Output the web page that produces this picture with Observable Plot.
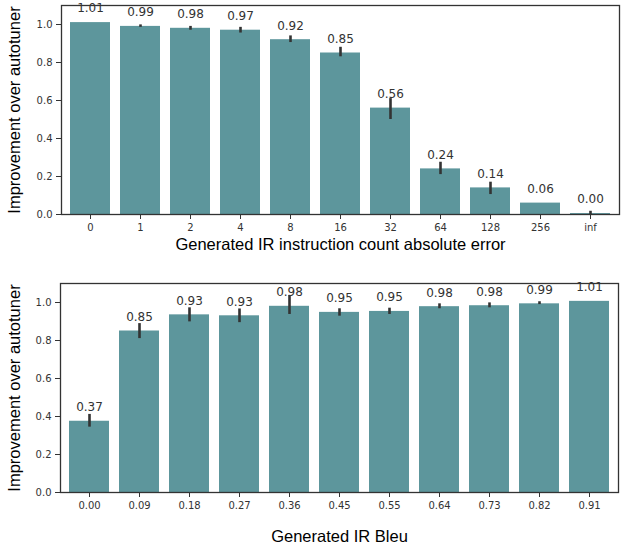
<!DOCTYPE html>
<html>
<head>
<meta charset="utf-8">
<script src="https://cdn.jsdelivr.net/npm/d3@7"></script>
<script src="https://cdn.jsdelivr.net/npm/@observablehq/plot@0.6"></script>
<style>
  html, body { margin: 0; padding: 0; background: #fff; }
  #wrap { position: relative; width: 621px; height: 546px; }
  #top { position: absolute; left: 0; top: 0; }
  #bot { position: absolute; left: 0; top: 262px; }
</style>
</head>
<body>
<div id="wrap"><div id="top"></div><div id="bot"></div></div>
<script>
// Top panel: IR instruction count absolute error
const errCategories = ["0", "1", "2", "4", "8", "16", "32", "64", "128", "256", "inf"];
const errValues =     [1.01, 0.99, 0.98, 0.97, 0.92, 0.85, 0.56, 0.24, 0.14, 0.06, 0.005];
const errLabels =     ["1.01", "0.99", "0.98", "0.97", "0.92", "0.85", "0.56", "0.24", "0.14", "0.06", "0.00"];
const errLow =        [null, 0.985, 0.97, 0.955, 0.905, 0.83, 0.50, 0.21, 0.105, null, 0.0];
const errHigh =       [null, 0.998, 0.99, 0.985, 0.94, 0.88, 0.61, 0.275, 0.17, null, 0.017];

// Bottom panel: IR Bleu
const bleuCategories = ["0.00", "0.09", "0.18", "0.27", "0.36", "0.45", "0.55", "0.64", "0.73", "0.82", "0.91"];
const bleuValues =     [0.375, 0.85, 0.935, 0.93, 0.98, 0.948, 0.953, 0.978, 0.983, 0.993, 1.006];
const bleuLabels =     ["0.37", "0.85", "0.93", "0.93", "0.98", "0.95", "0.95", "0.98", "0.98", "0.99", "1.01"];
const bleuLow =        [0.344, 0.81, 0.898, 0.894, 0.937, 0.928, 0.937, 0.967, 0.972, 0.989, null];
const bleuHigh =       [0.411, 0.889, 0.972, 0.966, 1.037, 0.967, 0.97, 0.993, 0.998, 1.004, null];

const yTicks = [0, 0.2, 0.4, 0.6, 0.8, 1.0];
const yTitle = "Improvement over autotuner";

const BAR = "#5d969c";
const INK = "#333333";

function rows(cats, vals, labs, lo, hi) {
  return cats.map((c, i) => ({cat: c, v: vals[i], lab: labs[i], lo: lo[i], hi: hi[i]}));
}

function panel({data, cats, xTitle, height, mt, mb, ml, mr, xTitleDy, yTitleDx}) {
  const withErr = data.filter(d => d.lo != null && d.hi != null);
  return Plot.plot({
    width: 621,
    height,
    marginTop: mt,
    marginBottom: mb,
    marginLeft: ml,
    marginRight: mr,
    style: {fontFamily: "DejaVu Sans, sans-serif", color: INK, background: "#fff", overflow: "visible"},
    x: {domain: cats, paddingInner: 0.2, paddingOuter: 0.1, label: null},
    y: {domain: [0, 1.1], label: null},
    marks: [
      Plot.barY(data, {x: "cat", y: "v", fill: BAR}),
      Plot.ruleX(withErr, {x: "cat", y1: "lo", y2: "hi", stroke: INK, strokeWidth: 2.6}),
      Plot.text(data, {x: "cat", y: "v", text: "lab", dy: -14, fontSize: 12, fill: INK}),
      Plot.frame({stroke: INK, strokeWidth: 1.3}),
      Plot.axisX({tickSize: 5, tickPadding: 4, fontSize: 10, label: null}),
      Plot.axisY({ticks: yTicks, tickFormat: d3.format(".1f"), tickSize: 5, tickPadding: 4, fontSize: 10, label: null}),
      Plot.text([xTitle], {frameAnchor: "bottom", dy: xTitleDy, fontSize: 16.5, fontFamily: "Liberation Sans, Arial, sans-serif", fill: "#000", lineAnchor: "middle", textAnchor: "middle"}),
      Plot.text([yTitle], {frameAnchor: "left", dx: yTitleDx, rotate: -90, fontSize: 16.5, fontFamily: "Liberation Sans, Arial, sans-serif", fill: "#000", lineAnchor: "middle", textAnchor: "middle"})
    ]
  });
}

document.getElementById("top").append(panel({
  data: rows(errCategories, errValues, errLabels, errLow, errHigh),
  cats: errCategories,
  xTitle: "Generated IR instruction count absolute error",
  height: 262, mt: 5, mb: 48, ml: 61, mr: 2,
  xTitleDy: 30, yTitleDx: -47
}));

document.getElementById("bot").append(panel({
  data: rows(bleuCategories, bleuValues, bleuLabels, bleuLow, bleuHigh),
  cats: bleuCategories,
  xTitle: "Generated IR Bleu",
  height: 284, mt: 21, mb: 54, ml: 60, mr: 3,
  xTitleDy: 44, yTitleDx: -46
}));
</script>
</body>
</html>
